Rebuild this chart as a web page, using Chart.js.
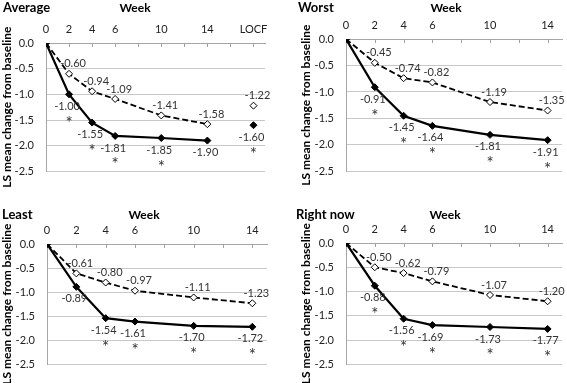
<!DOCTYPE html>
<html>
<head>
<meta charset="utf-8">
<script src="https://cdn.jsdelivr.net/npm/chart.js@4.4.0/dist/chart.umd.min.js"></script>
<style>
  body { margin: 0; background: #fff; }
  #wrap { position: relative; width: 567px; height: 383px; }
  canvas { position: absolute; }
</style>
</head>
<body>
<div id="wrap">
  <canvas id="c1" width="283" height="190" style="left:0;top:0"></canvas>
  <canvas id="c2" width="284" height="190" style="left:283px;top:0"></canvas>
  <canvas id="c3" width="283" height="193" style="left:0;top:190px"></canvas>
  <canvas id="c4" width="284" height="193" style="left:283px;top:190px"></canvas>
</div>
<script>
// weeks shown on the axis
const weeks = [0, 2, 4, 6, 10, 14];
const locfWeek = 18;

// Average
const avgSolid  = [0, -1.00, -1.55, -1.81, -1.85, -1.90];
const avgDashed = [0, -0.60, -0.94, -1.09, -1.41, -1.58];
const avgSig    = [false, true, true, true, true, false];
const avgLocfSolid  = -1.60;
const avgLocfDashed = -1.22;
const avgLocfSig    = true;

// Worst
const worstSolid  = [0, -0.91, -1.45, -1.64, -1.81, -1.91];
const worstDashed = [0, -0.45, -0.74, -0.82, -1.19, -1.35];
const worstSig    = [false, true, true, true, true, true];

// Least
const leastSolid  = [0, -0.89, -1.54, -1.61, -1.70, -1.72];
const leastDashed = [0, -0.61, -0.80, -0.97, -1.11, -1.23];
const leastSig    = [false, false, true, true, true, true];

// Right now
const nowSolid  = [0, -0.88, -1.56, -1.69, -1.73, -1.77];
const nowDashed = [0, -0.50, -0.62, -0.79, -1.07, -1.20];
const nowSig    = [false, true, true, true, true, true];

const yTicks = [0, -0.5, -1.0, -1.5, -2.0, -2.5];

const FONT = 'Lato';

function pts(values) {
    return values.map((v, i) => ({ x: weeks[i], y: v }));
}

// panel name + "Week" header
const headerPlugin = {
    id: 'header',
    afterDraw(chart, args, opts) {
        const ctx = chart.ctx;
        ctx.save();
        ctx.fillStyle = '#000';
        ctx.textBaseline = 'middle';
        ctx.textAlign = 'left';
        ctx.font = 'bold 13px ' + FONT;
        ctx.fillText(opts.name, opts.nameX, opts.headY);
        ctx.textAlign = 'center';
        ctx.font = 'bold 12px ' + FONT;
        ctx.fillText('Week', opts.weekX, opts.headY);
        ctx.restore();
    }
};

// small tick marks hanging under the top axis
const tickMarkPlugin = {
    id: 'tickMarks',
    beforeDatasetsDraw(chart) {
        const ctx = chart.ctx, xs = chart.scales.x, top = chart.chartArea.top;
        ctx.save();
        ctx.strokeStyle = '#a0a0a0';
        ctx.lineWidth = 1;
        ctx.beginPath();
        xs.ticks.forEach(t => {
            if (t.value % 2 !== 0) return;
            const px = Math.round(xs.getPixelForValue(t.value)) + 0.5;
            ctx.moveTo(px, top);
            ctx.lineTo(px, top + 4);
        });
        ctx.stroke();
        ctx.restore();
    }
};

// value labels and significance asterisks
const valueLabelPlugin = {
    id: 'valueLabels',
    afterDatasetsDraw(chart) {
        const ctx = chart.ctx;
        ctx.save();
        ctx.fillStyle = '#333';
        ctx.textAlign = 'center';
        ctx.textBaseline = 'middle';
        chart.data.datasets.forEach((ds, i) => {
            const meta = chart.getDatasetMeta(i);
            meta.data.forEach((pt, j) => {
                const v = ds.data[j].y;
                if (v === 0) return;
                const up = ds.labelSide === 'above';
                const x = pt.x + (up ? 4 : -2);
                const y = pt.y + (up ? -10 : 12);
                ctx.font = '11px ' + FONT;
                ctx.fillText(v.toFixed(2), x, y);
                if (ds.sig && ds.sig[j]) {
                    ctx.font = '17px ' + FONT;
                    ctx.fillText('*', pt.x, y + 17);
                }
            });
        });
        ctx.restore();
    }
};

function solidSet(data, sig) {
    return {
        data: data, sig: sig, labelSide: 'below',
        borderColor: '#000', borderWidth: 2.2,
        pointStyle: 'rectRot', pointRadius: 3.5,
        pointBackgroundColor: '#000', pointBorderColor: '#000', pointBorderWidth: 1
    };
}

function dashedSet(data) {
    return {
        data: data, labelSide: 'above',
        borderColor: '#000', borderWidth: 1.8, borderDash: [6, 3],
        pointStyle: 'rectRot', pointRadius: 3.5,
        pointBackgroundColor: '#fff', pointBorderColor: '#000', pointBorderWidth: 1
    };
}

function MakePanel(id, name, datasets, xMax, hasLocf, g)
{
    const ctx = document.getElementById(id).getContext('2d');
    return new Chart(ctx, {
        type: 'line',
        data: { datasets: datasets },
        options: {
            responsive: false,
            animation: false,
            events: [],
            layout: { padding: { left: g.padLeft, right: g.padRight, top: 0, bottom: g.padBottom } },
            plugins: {
                legend: { display: false },
                tooltip: { enabled: false },
                header: { name: name, nameX: g.nameX, weekX: g.weekX, headY: g.headY }
            },
            scales: {
                x: {
                    type: 'linear', position: 'top', min: 0, max: xMax,
                    afterFit: s => { s.height = g.xHeight; },
                    grid: { display: false, drawTicks: false },
                    border: { display: true, color: '#a6a6a6' },
                    ticks: {
                        stepSize: 2, includeBounds: false, autoSkip: false, maxRotation: 0,
                        padding: 7, color: '#222', font: { family: FONT, size: 11 },
                        callback: v => (hasLocf && v === locfWeek) ? 'LOCF' : (weeks.includes(v) ? String(v) : '')
                    }
                },
                y: {
                    min: -2.5, max: 0,
                    afterFit: s => { s.width = g.yWidth; },
                    afterBuildTicks: s => { s.ticks = yTicks.map(v => ({ value: v })); },
                    grid: { color: '#c8c8c8', drawTicks: false },
                    border: { display: true, color: '#a6a6a6' },
                    ticks: {
                        padding: 12, color: '#222', font: { family: FONT, size: 11 },
                        callback: v => v.toFixed(1)
                    },
                    title: {
                        display: true, text: 'LS mean change from baseline', color: '#000',
                        padding: 0, font: { family: FONT, size: 12, weight: 'bold' }
                    }
                }
            }
        },
        plugins: [tickMarkPlugin, valueLabelPlugin, headerPlugin]
    });
}

MakePanel('c1', 'Average', [
    solidSet(pts(avgSolid), avgSig),
    dashedSet(pts(avgDashed)),
    Object.assign(solidSet([{ x: locfWeek, y: avgLocfSolid }], [avgLocfSig]), { showLine: false }),
    Object.assign(dashedSet([{ x: locfWeek, y: avgLocfDashed }]), { showLine: false })
], 19, true, { padLeft: 0, yWidth: 46, padRight: 18, padBottom: 17, xHeight: 43, nameX: 3, weekX: 135, headY: 8 });

MakePanel('c2', 'Worst', [
    solidSet(pts(worstSolid), worstSig),
    dashedSet(pts(worstDashed))
], 15, false, { padLeft: 16, yWidth: 47, padRight: 2, padBottom: 18, xHeight: 39, nameX: 15, weekX: 163, headY: 8 });

MakePanel('c3', 'Least', [
    solidSet(pts(leastSolid), leastSig),
    dashedSet(pts(leastDashed))
], 15, false, { padLeft: 0, yWidth: 47, padRight: 16, padBottom: 6, xHeight: 54, nameX: 2, weekX: 144, headY: 25 });

MakePanel('c4', 'Right now', [
    solidSet(pts(nowSolid), nowSig),
    dashedSet(pts(nowDashed))
], 15, false, { padLeft: 16, yWidth: 47, padRight: 2, padBottom: 6, xHeight: 53, nameX: 13, weekX: 162, headY: 25 });
</script>
</body>
</html>
